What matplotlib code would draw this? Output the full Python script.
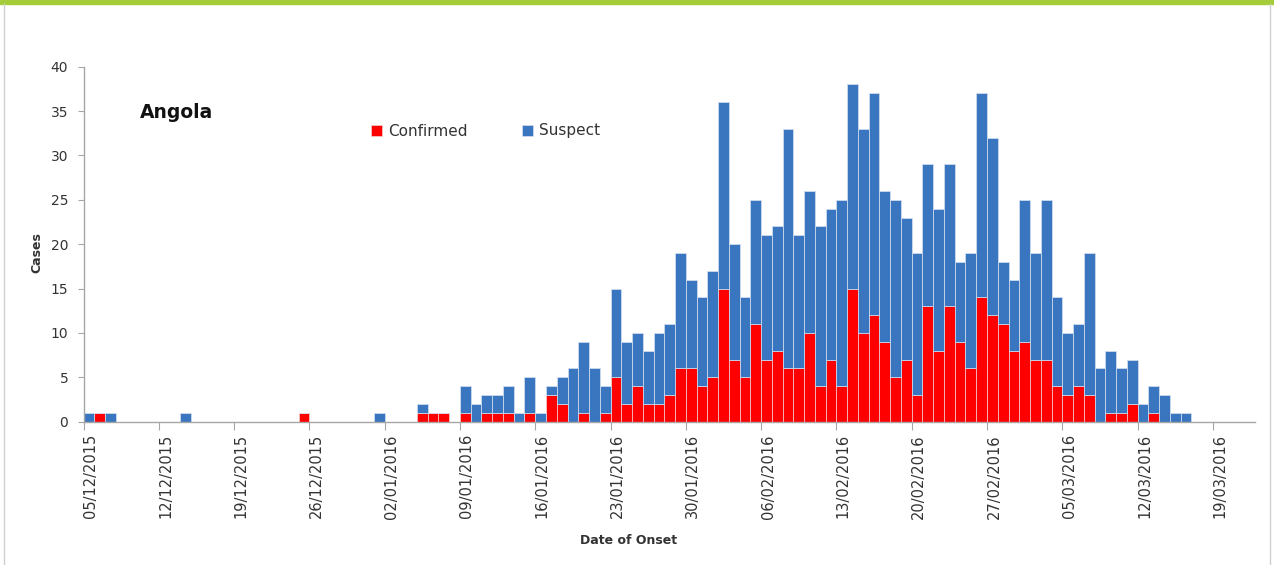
# Angola - cases by date of onset

import pandas as pd
import numpy as np
import matplotlib
matplotlib.use('Agg')
import matplotlib.pyplot as plt
import matplotlib.dates as mdates
import matplotlib.transforms as mtransforms
from matplotlib.patches import Rectangle
from matplotlib.lines import Line2D

# Data (one value per day, from 05/12/2015 to 16/03/2016)
onset_dates = pd.date_range('2015-12-05', '2016-03-16', freq='D')

confirmed = [0, 1, 0, 0, 0, 0, 0,
             0, 0, 0, 0, 0, 0, 0,
             0, 0, 0, 0, 0, 0, 1,
             0, 0, 0, 0, 0, 0, 0,
             0, 0, 0, 1, 1, 1, 0,
             1, 0, 1, 1, 1, 0, 1,
             0, 3, 2, 0, 1, 0, 1,
             5, 2, 4, 2, 2, 3, 6,
             6, 4, 5, 15, 7, 5, 11,
             7, 8, 6, 6, 10, 4, 7,
             4, 15, 10, 12, 9, 5, 7,
             3, 13, 8, 13, 9, 6, 14,
             12, 11, 8, 9, 7, 7, 4,
             3, 4, 3, 0, 1, 1, 2,
             0, 1, 0, 0, 0]

suspect = [1, 0, 1, 0, 0, 0, 0,
           0, 0, 1, 0, 0, 0, 0,
           0, 0, 0, 0, 0, 0, 0,
           0, 0, 0, 0, 0, 0, 1,
           0, 0, 0, 1, 0, 0, 0,
           3, 2, 2, 2, 3, 1, 4,
           1, 1, 3, 6, 8, 6, 3,
           10, 7, 6, 6, 8, 8, 13,
           10, 10, 12, 21, 13, 9, 14,
           14, 14, 27, 15, 16, 18, 17,
           21, 23, 23, 25, 17, 20, 16,
           16, 16, 16, 16, 9, 13, 23,
           20, 7, 8, 16, 12, 18, 10,
           7, 7, 16, 6, 7, 5, 5,
           2, 3, 3, 1, 1]

tick_dates = pd.date_range('2015-12-05', '2016-03-19', freq='7D')
y_ticks = [0, 5, 10, 15, 20, 25, 30, 35, 40]

# Colours
red = '#ff0000'
blue = '#3a75bf'
text_col = '#333333'
axis_col = '#a6a6a6'

fig = plt.figure(figsize=(12.74, 5.65), dpi=100)
ax = fig.add_axes([83.5 / 1274, 1 - 421.7 / 565, (1255 - 83.5) / 1274, (421.7 - 66.7) / 565])

conf = np.array(confirmed)
susp = np.array(suspect)
ax.bar(onset_dates, conf, width=1, align='edge', color=red,
       edgecolor='#f3d0d0', linewidth=0.5, label='Confirmed')
ax.bar(onset_dates, susp, width=1, align='edge', bottom=conf, color=blue,
       edgecolor='#d6e2f2', linewidth=0.5, label='Suspect')

ax.set_ylim(0, 40)
ax.set_yticks(y_ticks)
ax.set_xlim(pd.Timestamp('2015-12-05'), pd.Timestamp('2016-03-22 22:00'))
ax.set_xticks(tick_dates)
ax.xaxis.set_major_formatter(mdates.DateFormatter('%d/%m/%Y'))

for s in ['top', 'right']:
    ax.spines[s].set_visible(False)
for s in ['left', 'bottom']:
    ax.spines[s].set_color(axis_col)
    ax.spines[s].set_linewidth(1.0)
ax.tick_params(axis='y', length=4, color=axis_col, labelsize=10, labelcolor=text_col, pad=7)
ax.tick_params(axis='x', length=6, color=axis_col, labelsize=10.5, labelcolor=text_col, pad=3,
               labelrotation=90)

# labels sit a little right of their ticks, as in Excel
shift = mtransforms.ScaledTranslation(7 / 100, 0, fig.dpi_scale_trans)
for tick in ax.xaxis.get_major_ticks():
    tick.label1.set_transform(tick.label1.get_transform() + shift)

fig.text(37 / 1274, 1 - 253 / 565, 'Cases', rotation=90, ha='center', va='center',
         fontsize=9, fontweight='bold', color=text_col)
fig.text(629 / 1274, 1 - 540 / 565, 'Date of Onset', ha='center', va='center',
         fontsize=9, fontweight='bold', color=text_col)
fig.text(140 / 1274, 1 - 113 / 565, 'Angola', ha='left', va='center',
         fontsize=13.5, fontweight='bold', color='#111111')

ax.legend(loc='center left', bbox_to_anchor=(371 / 1274, 1 - 131 / 565),
          bbox_transform=fig.transFigure, ncol=2, frameon=False,
          fontsize=11, handlelength=0.75, handleheight=0.75, handletextpad=0.4,
          columnspacing=3.5, borderpad=0, borderaxespad=0, labelcolor=text_col)

# page decoration: green strip on top, thin panel border
fig.patches.append(Rectangle((0, 1 - 4 / 565), 1, 4 / 565, transform=fig.transFigure,
                             color='#a5cd39', zorder=0))
fig.lines.append(Line2D([4 / 1274, 4 / 1274], [0, 1 - 4 / 565], transform=fig.transFigure,
                        color='#d0d0d0', linewidth=1))
fig.lines.append(Line2D([1270 / 1274, 1270 / 1274], [0, 1 - 4 / 565], transform=fig.transFigure,
                        color='#d0d0d0', linewidth=1))

plt.savefig('out.png', dpi=100)
